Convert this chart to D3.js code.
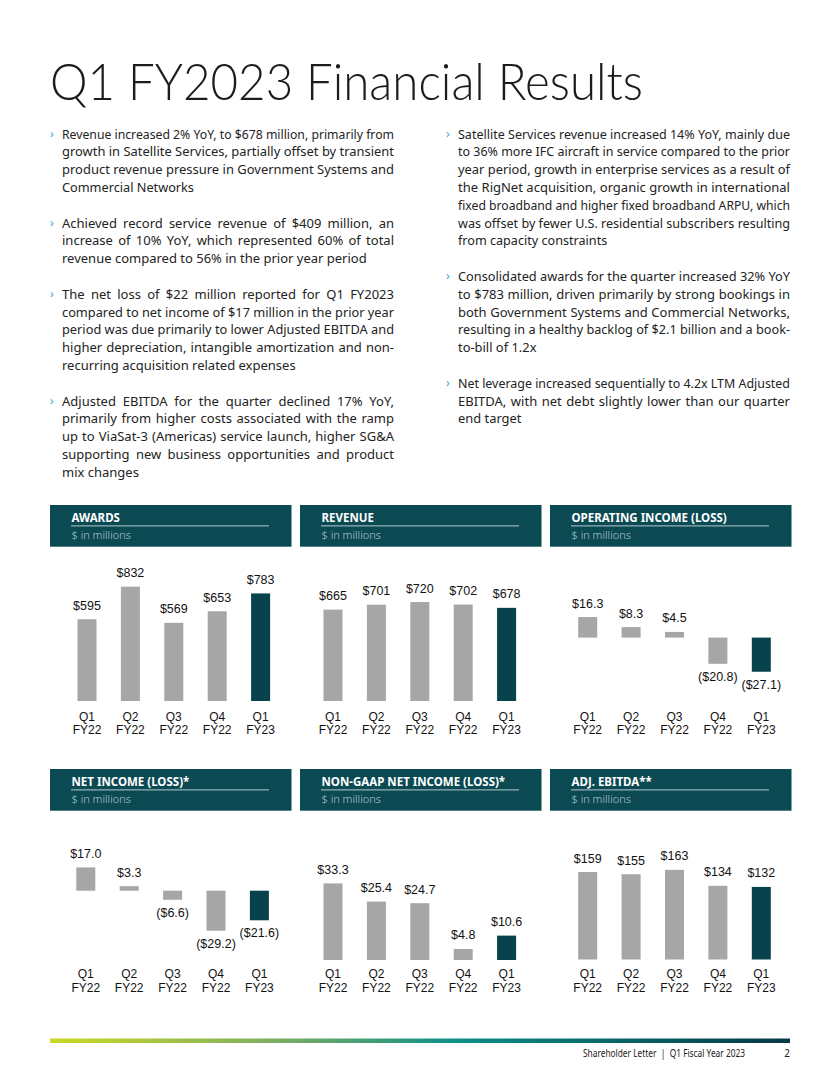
<!DOCTYPE html>
<html>
<head>
<meta charset="utf-8">
<script src="https://cdn.jsdelivr.net/npm/d3@7"></script>
<style>
  html, body { margin: 0; padding: 0; background: #fff; }
  svg { display: block; }
</style>
</head>
<body>
<svg id="page" width="840" height="1087"></svg>
<script>
// ---- data ----
const quarterLabels = ["Q1", "Q2", "Q3", "Q4", "Q1"];
const yearLabels = ["FY22", "FY22", "FY22", "FY22", "FY23"];

const awards = [595, 832, 569, 653, 783];
const revenue = [665, 701, 720, 702, 678];
const operatingIncome = [16.3, 8.3, 4.5, -20.8, -27.1];
const netIncome = [17.0, 3.3, -6.6, -29.2, -21.6];
const nonGaapNetIncome = [33.3, 25.4, 24.7, 4.8, 10.6];
const adjEbitda = [159, 155, 163, 134, 132];

const panelTitles = ["AWARDS", "REVENUE", "OPERATING INCOME (LOSS)",
  "NET INCOME (LOSS)*", "NON-GAAP NET INCOME (LOSS)*", "ADJ. EBITDA**"];
const unitLabel = "$ in millions";

const pageTitle = "Q1 FY2023 Financial Results";
const footerText = "Shareholder Letter  |  Q1 Fiscal Year 2023";
const pageNumber = "2";

const leftBullets = [
  ["Revenue increased 2% YoY, to $678 million, primarily from",
   "growth in Satellite Services, partially offset by transient",
   "product revenue pressure in Government Systems and",
   "Commercial Networks"],
  ["Achieved record service revenue of $409 million, an",
   "increase of 10% YoY, which represented 60% of total",
   "revenue compared to 56% in the prior year period"],
  ["The net loss of $22 million reported for Q1 FY2023",
   "compared to net income of $17 million in the prior year",
   "period was due primarily to lower Adjusted EBITDA and",
   "higher depreciation, intangible amortization and non-",
   "recurring acquisition related expenses"],
  ["Adjusted EBITDA for the quarter declined 17% YoY,",
   "primarily from higher costs associated with the ramp",
   "up to ViaSat-3 (Americas) service launch, higher SG&A",
   "supporting new business opportunities and product",
   "mix changes"]
];
const rightBullets = [
  ["Satellite Services revenue increased 14% YoY, mainly due",
   "to 36% more IFC aircraft in service compared to the prior",
   "year period, growth in enterprise services as a result of",
   "the RigNet acquisition, organic growth in international",
   "fixed broadband and higher fixed broadband ARPU, which",
   "was offset by fewer U.S. residential subscribers resulting",
   "from capacity constraints"],
  ["Consolidated awards for the quarter increased 32% YoY",
   "to $783 million, driven primarily by strong bookings in",
   "both Government Systems and Commercial Networks,",
   "resulting in a healthy backlog of $2.1 billion and a book-",
   "to-bill of 1.2x"],
  ["Net leverage increased sequentially to 4.2x LTM Adjusted",
   "EBITDA, with net debt slightly lower than our quarter",
   "end target"]
];

// ---- layout ----
const teal = "#0b4953";
const barTeal = "#08434d";
const gray = "#a6a6a6";
const textFont = "'Noto Sans', sans-serif";
const numFont = "'Liberation Sans', Arial, sans-serif";

const svg = d3.select("#page");
svg.append("rect").attr("width", 840).attr("height", 1087).attr("fill", "#fff");

// title
svg.append("text")
  .attr("x", 50).attr("y", 100)
  .attr("font-family", "Lato, sans-serif")
  .attr("font-weight", 300)
  .attr("font-size", 51)
  .attr("fill", "#1c1c1c")
  .attr("textLength", 593)
  .attr("lengthAdjust", "spacingAndGlyphs")
  .text(pageTitle);

// bullet columns, justified line by line
const lineH = 17.8;
function drawColumn(bullets, x, width, bulletX) {
  const g = svg.append("g")
    .attr("font-family", textFont)
    .attr("font-size", 13)
    .attr("fill", "#232323");
  let idx = 0;
  bullets.forEach(par => {
    g.append("text")
      .attr("x", bulletX).attr("y", 138 + idx * lineH)
      .attr("fill", "#3aa3d9")
      .attr("font-size", 12)
      .text("\u203A");
    const rows = par.map((line, j) => {
      const t = g.append("text")
        .attr("x", x).attr("y", 138.5 + (idx + j) * lineH)
        .text(line);
      return { t, line, w: t.node().getComputedTextLength() };
    });
    const full = rows.slice(0, -1);
    const k = full.length ? d3.mean(full, r => width / r.w) : 1;
    rows.forEach((r, j) => {
      const last = j === rows.length - 1;
      if (!last) {
        const spaces = (r.line.match(/ /g) || []).length;
        if (r.w <= width && spaces) {
          r.t.attr("word-spacing", ((width - r.w) / spaces).toFixed(2));
        } else {
          r.t.attr("textLength", width).attr("lengthAdjust", "spacingAndGlyphs");
        }
      } else if (k < 1) {
        r.t.attr("textLength", r.w * k).attr("lengthAdjust", "spacingAndGlyphs");
      }
    });
    idx += par.length + 1;
  });
}
drawColumn(leftBullets, 62, 332, 50);
drawColumn(rightBullets, 458, 332, 446);

// ---- small bar panels ----
const panels = [
  { title: panelTitles[0], values: awards, dec: 0, bx: 50, by: 505, x0: 87, zeroY: 701, k: 0.1374, row: 0 },
  { title: panelTitles[1], values: revenue, dec: 0, bx: 300, by: 505, x0: 333, zeroY: 701, k: 0.1374, row: 0 },
  { title: panelTitles[2], values: operatingIncome, dec: 1, bx: 550, by: 505, x0: 587.7, zeroY: 637.6, k: 1.26, row: 0 },
  { title: panelTitles[3], values: netIncome, dec: 1, bx: 50, by: 769, x0: 85.8, zeroY: 890.7, k: 1.37, row: 1 },
  { title: panelTitles[4], values: nonGaapNetIncome, dec: 1, bx: 300, by: 769, x0: 333, zeroY: 960, k: 2.3, row: 1 },
  { title: panelTitles[5], values: adjEbitda, dec: 0, bx: 550, by: 769, x0: 587.7, zeroY: 959.5, k: 0.55, row: 1 }
];
const catY = [[720.7, 733.5], [978.2, 992]];

function fmt(v, dec) {
  const s = "$" + Math.abs(v).toFixed(dec);
  return v < 0 ? "(" + s + ")" : s;
}

panels.forEach(p => {
  const g = svg.append("g");

  g.append("rect")
    .attr("x", p.bx).attr("y", p.by)
    .attr("width", 241.5).attr("height", 41.7)
    .attr("fill", teal);
  g.append("text")
    .attr("x", p.bx + 21.5).attr("y", p.by + 16.6)
    .attr("font-family", textFont)
    .attr("font-weight", 700)
    .attr("font-size", 11.5)
    .attr("fill", "#fff")
    .text(p.title);
  g.append("line")
    .attr("x1", p.bx + 21).attr("x2", p.bx + 219)
    .attr("y1", p.by + 20.9).attr("y2", p.by + 20.9)
    .attr("stroke", "#b7cdd1").attr("stroke-width", 1);
  g.append("text")
    .attr("x", p.bx + 21.5).attr("y", p.by + 34.2)
    .attr("font-family", textFont)
    .attr("font-weight", 300)
    .attr("font-size", 11)
    .attr("fill", "#b2cace")
    .text(unitLabel);

  const x = d3.scalePoint().domain(d3.range(p.values.length)).range([p.x0, p.x0 + 4 * 43.4]);
  const y = d3.scaleLinear().domain([0, 1]).range([p.zeroY, p.zeroY - p.k]);
  const bw = 19;

  g.selectAll(".bar")
    .data(p.values)
    .enter().append("rect")
    .attr("x", (d, i) => x(i) - bw / 2)
    .attr("y", d => Math.min(y(d), y(0)))
    .attr("width", bw)
    .attr("height", d => Math.abs(y(d) - y(0)))
    .attr("fill", (d, i) => i === p.values.length - 1 ? barTeal : gray);

  g.selectAll(".val")
    .data(p.values)
    .enter().append("text")
    .attr("x", (d, i) => x(i))
    .attr("y", d => d >= 0 ? y(d) - 9.5 : y(d) + 17)
    .attr("text-anchor", "middle")
    .attr("font-family", numFont)
    .attr("font-size", 12.5)
    .attr("fill", "#111")
    .text(d => fmt(d, p.dec));

  const cy = catY[p.row];
  g.selectAll(".cat")
    .data(p.values)
    .enter().append("text")
    .attr("text-anchor", "middle")
    .attr("font-family", numFont)
    .attr("font-size", 12)
    .attr("fill", "#111")
    .each(function (d, i) {
      const t = d3.select(this);
      t.append("tspan").attr("x", x(i)).attr("y", cy[0]).text(quarterLabels[i]);
      t.append("tspan").attr("x", x(i)).attr("y", cy[1]).text(yearLabels[i]);
    });
});

// ---- footer ----
const grad = svg.append("defs").append("linearGradient")
  .attr("id", "foot").attr("x1", "0%").attr("x2", "100%");
grad.append("stop").attr("offset", "0%").attr("stop-color", "#cbd923");
grad.append("stop").attr("offset", "30%").attr("stop-color", "#7fae62");
grad.append("stop").attr("offset", "55%").attr("stop-color", "#0d8f88");
grad.append("stop").attr("offset", "100%").attr("stop-color", "#063844");
svg.append("rect")
  .attr("x", 50).attr("y", 1038.5)
  .attr("width", 740).attr("height", 4.5)
  .attr("fill", "url(#foot)");
svg.append("text")
  .attr("x", 583).attr("y", 1057)
  .attr("font-family", textFont)
  .attr("font-size", 10)
  .attr("fill", "#222")
  .attr("xml:space", "preserve")
  .attr("textLength", 162)
  .attr("lengthAdjust", "spacingAndGlyphs")
  .text(footerText);
svg.append("text")
  .attr("x", 790).attr("y", 1057)
  .attr("text-anchor", "end")
  .attr("font-family", textFont)
  .attr("font-size", 10)
  .attr("fill", "#222")
  .text(pageNumber);
</script>
</body>
</html>
